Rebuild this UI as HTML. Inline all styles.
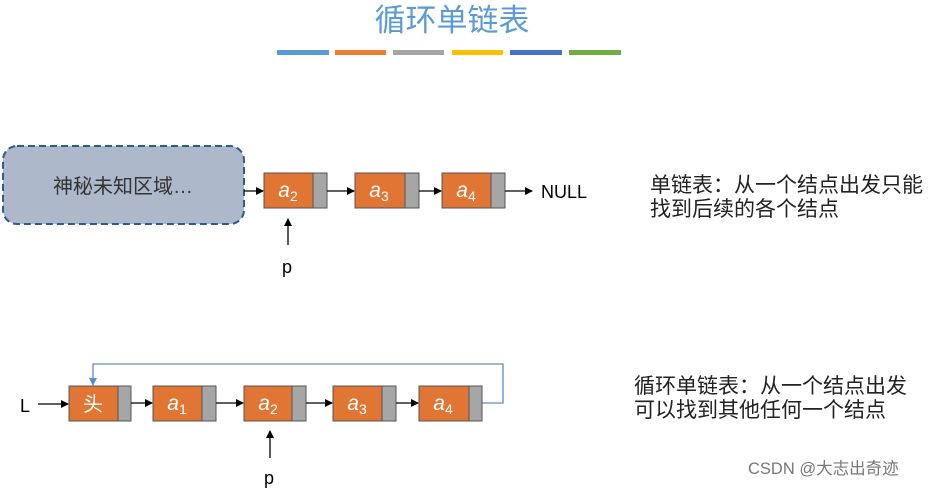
<!DOCTYPE html>
<html><head><meta charset="utf-8"><style>
body{margin:0;width:933px;height:488px;background:#fff;overflow:hidden}
svg text{font-family:"Liberation Sans","Noto Sans CJK SC",sans-serif}
</style></head><body>
<svg width="933" height="488" viewBox="0 0 933 488">
<defs><marker id="ar" markerWidth="8" markerHeight="8" refX="7" refY="4" orient="auto" markerUnits="userSpaceOnUse"><path d="M0,0 L8,4 L0,8 z" fill="#000"/></marker>
<marker id="ab" markerWidth="8" markerHeight="8" refX="7" refY="4" orient="auto" markerUnits="userSpaceOnUse"><path d="M0,0 L8,4 L0,8 z" fill="#5b8fc7"/></marker></defs>
<text x="452" y="31" text-anchor="middle" font-size="31" fill="#5b9bd5">循环单链表</text>
<rect x="277" y="50" width="52" height="5" fill="#5b9bd5"/>
<rect x="335" y="50" width="51" height="5" fill="#ed7d31"/>
<rect x="393" y="50" width="51" height="5" fill="#a5a5a5"/>
<rect x="452" y="50" width="51" height="5" fill="#ffc000"/>
<rect x="510" y="50" width="52" height="5" fill="#4472c4"/>
<rect x="569" y="50" width="52" height="5" fill="#70ad47"/>
<rect x="3" y="146" width="241" height="78" rx="14" fill="#adb9ca" stroke="#2e5c8a" stroke-width="2" stroke-dasharray="7,4"/>
<text x="123" y="193" text-anchor="middle" font-size="20" fill="#333">神秘未知区域…</text>
<g stroke="#555" stroke-width="1">
<rect x="264" y="173" width="49" height="35" fill="#e07534"/><rect x="313" y="173" width="14" height="35" fill="#a6a6a6"/>
<rect x="355" y="173" width="50" height="35" fill="#e07534"/><rect x="405" y="173" width="14" height="35" fill="#a6a6a6"/>
<rect x="442" y="173" width="49" height="35" fill="#e07534"/><rect x="491" y="173" width="14" height="35" fill="#a6a6a6"/>
</g>
<g font-size="21" fill="#fff" font-style="italic" text-anchor="middle">
<text x="288" y="197">a<tspan font-size="14" dy="4" font-style="normal">2</tspan></text>
<text x="379" y="197">a<tspan font-size="14" dy="4" font-style="normal">3</tspan></text>
<text x="466" y="197">a<tspan font-size="14" dy="4" font-style="normal">4</tspan></text>
</g>
<g stroke="#000" stroke-width="1.3" marker-end="url(#ar)">
<line x1="244" y1="191" x2="263" y2="191"/><line x1="327" y1="191" x2="354" y2="191"/>
<line x1="419" y1="191" x2="441" y2="191"/><line x1="505" y1="191" x2="532" y2="191"/>
<line x1="288" y1="245" x2="288" y2="219"/>
</g>
<text x="541" y="198" font-size="18">NULL</text>
<text x="282" y="273" font-size="18">p</text>
<text x="650" y="192" font-size="21" fill="#222">单链表：从一个结点出发只能</text>
<text x="650" y="216" font-size="21" fill="#222">找到后续的各个结点</text>
<polyline points="482,403 503,403 503,364 93,364 93,385" fill="none" stroke="#5b8fc7" stroke-width="1.3" marker-end="url(#ab)"/>
<g stroke="#555" stroke-width="1">
<rect x="69" y="386" width="49" height="35" fill="#e07534"/><rect x="118" y="386" width="13" height="35" fill="#a6a6a6"/>
<rect x="153" y="386" width="49" height="35" fill="#e07534"/><rect x="202" y="386" width="14" height="35" fill="#a6a6a6"/>
<rect x="244" y="386" width="48" height="35" fill="#e07534"/><rect x="292" y="386" width="14" height="35" fill="#a6a6a6"/>
<rect x="333" y="386" width="49" height="35" fill="#e07534"/><rect x="382" y="386" width="14" height="35" fill="#a6a6a6"/>
<rect x="419" y="386" width="50" height="35" fill="#e07534"/><rect x="469" y="386" width="13" height="35" fill="#a6a6a6"/>
</g>
<text x="93" y="411" text-anchor="middle" font-size="20" fill="#fff">头</text>
<g font-size="21" fill="#fff" font-style="italic" text-anchor="middle">
<text x="177" y="410">a<tspan font-size="14" dy="4" font-style="normal">1</tspan></text>
<text x="268" y="410">a<tspan font-size="14" dy="4" font-style="normal">2</tspan></text>
<text x="357" y="410">a<tspan font-size="14" dy="4" font-style="normal">3</tspan></text>
<text x="443" y="410">a<tspan font-size="14" dy="4" font-style="normal">4</tspan></text>
</g>
<g stroke="#000" stroke-width="1.3" marker-end="url(#ar)">
<line x1="38" y1="404" x2="68" y2="404"/><line x1="131" y1="403" x2="152" y2="403"/>
<line x1="216" y1="403" x2="243" y2="403"/><line x1="306" y1="403" x2="332" y2="403"/>
<line x1="396" y1="403" x2="418" y2="403"/>
<line x1="270" y1="458" x2="270" y2="431"/>
</g>
<text x="20" y="412" font-size="18">L</text>
<text x="264" y="484" font-size="18">p</text>
<text x="634" y="393" font-size="21" fill="#222">循环单链表：从一个结点出发</text>
<text x="634" y="417" font-size="21" fill="#222">可以找到其他任何一个结点</text>
<text x="748" y="474" font-size="16.5" fill="#777">CSDN @大志出奇迹</text>
</svg>
</body></html>
